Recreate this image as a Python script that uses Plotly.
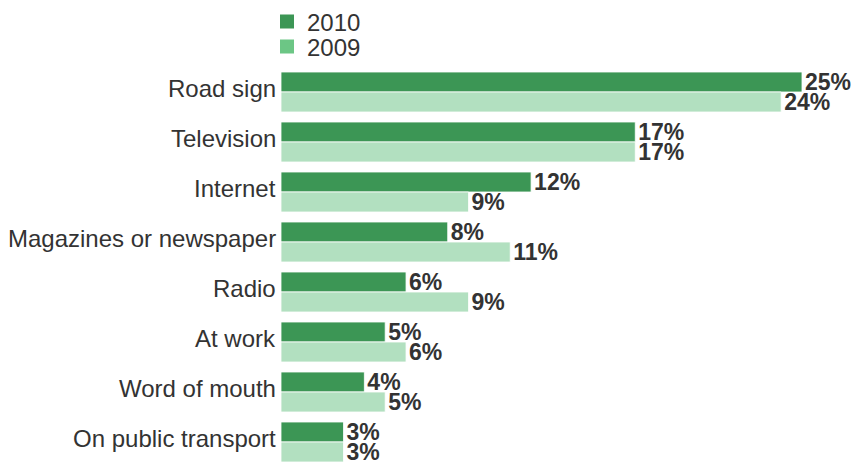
import plotly.graph_objects as go

categories = ["Road sign", "Television", "Internet", "Magazines or newspaper",
              "Radio", "At work", "Word of mouth", "On public transport"]
values_2010 = [25, 17, 12, 8, 6, 5, 4, 3]
values_2009 = [24, 17, 9, 11, 9, 6, 5, 3]
series_names = ["2010", "2009"]

bar_colors = ["#3c9655", "#b2e0c0"]
legend_colors = ["#3c9655", "#6cc685"]
text_color = "#333333"
FONT = "Liberation Sans, Arial, sans-serif"
FS = 24

W, H = 855, 466
ML = 250
PX_PER_UNIT = 20.84
X0_PX = 281
x_min = -(X0_PX - ML) / PX_PER_UNIT
x_max = x_min + (W - ML) / PX_PER_UNIT
ROW_PX = 50
y_top = -92 / ROW_PX
y_bottom = y_top + H / ROW_PX

fig = go.Figure()
for name, vals, col in zip(series_names, [values_2010, values_2009], bar_colors):
    fig.add_trace(go.Bar(
        y=categories, x=vals, orientation="h", name=name,
        marker=dict(color=col, line=dict(color="rgba(255,255,255,0.8)", width=1)),
        text=[f"{v}%" for v in vals], textposition="outside",
        textfont=dict(family=FONT, size=FS - 1, color=text_color, weight="bold"),
        constraintext="none", cliponaxis=False, showlegend=False,
        hoverinfo="skip",
    ))

legend_ids = ["legend", "legend2"]
for name, col, lid in zip(series_names, legend_colors, legend_ids):
    fig.add_trace(go.Scatter(
        x=[None], y=[None], mode="markers", name=name,
        marker=dict(symbol="square", size=14, color=col),
        showlegend=True, legend=lid,
    ))

for cat in categories:
    fig.add_annotation(
        x=0, y=cat, xref="x", yref="y", text=cat, showarrow=False,
        xanchor="right", yanchor="middle", xshift=-3, yshift=4,
        font=dict(family=FONT, size=FS, color=text_color),
    )

legend_style = dict(xref="paper", yref="paper", xanchor="left",
                    yanchor="middle", font=dict(family=FONT, size=FS, color=text_color),
                    bgcolor="rgba(0,0,0,0)", itemwidth=30, borderwidth=0)
leg_x = (267 - ML) / (W - ML)

fig.update_layout(
    width=W, height=H,
    margin=dict(l=ML, r=0, t=0, b=0, autoexpand=False),
    paper_bgcolor="white", plot_bgcolor="white",
    barmode="group", bargap=0.2, bargroupgap=0,
    font=dict(family=FONT, size=FS, color=text_color),
    showlegend=True,
    legend=dict(x=leg_x, y=1 - 22 / H, **legend_style),
    legend2=dict(x=leg_x, y=1 - 47 / H, **legend_style),
    xaxis=dict(range=[x_min, x_max], visible=False, fixedrange=True, automargin=False),
    yaxis=dict(range=[y_bottom, y_top], showticklabels=False, showgrid=False,
               zeroline=False, showline=False, ticks="", fixedrange=True,
               automargin=False),
)

fig.write_html("out.html", config={"displayModeBar": False},
               post_script="document.body.style.margin='0';document.body.style.overflow='hidden';")
